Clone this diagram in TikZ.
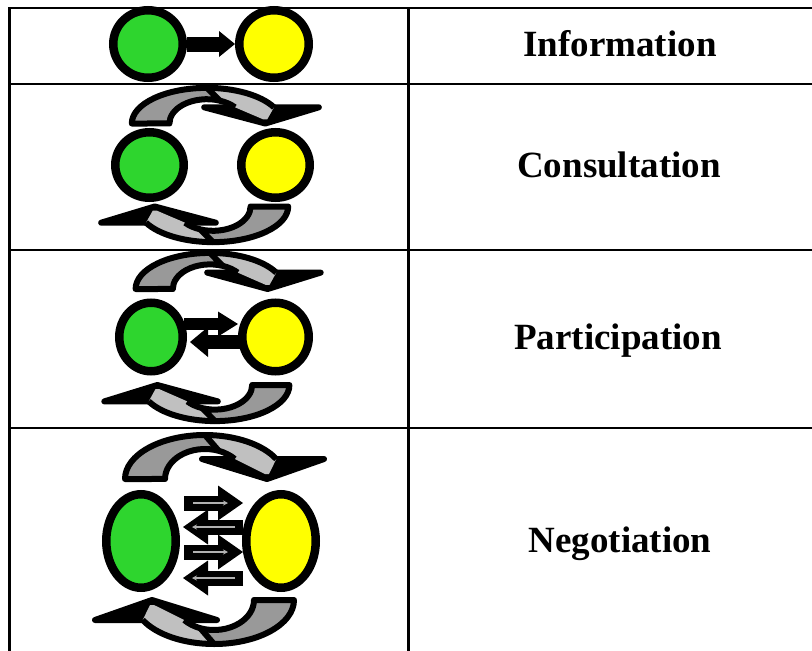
\documentclass[tikz,border=0pt]{standalone}
\usepackage{fontspec}
\setmainfont{Liberation Serif}
\usetikzlibrary{arrows.meta, shapes.geometric, calc}
\definecolor{mgreen}{HTML}{2ED52E}
\definecolor{myellow}{HTML}{FFFF00}
\definecolor{mdark}{HTML}{999999}
\definecolor{mlight}{HTML}{C0C0C0}
\definecolor{mthin}{HTML}{B0B0B0}
\tikzset{
  rule/.style={line width=2.5pt, black},
  gparty/.style={ellipse, draw=black, fill=mgreen, line width=8.5pt, inner sep=0pt},
  yparty/.style={ellipse, draw=black, fill=myellow, line width=8.5pt, inner sep=0pt},
  stage/.style={font=\fontsize{37}{40}\selectfont\bfseries, anchor=base},
  loopback/.style={draw=black, line width=6pt, line join=round},
  flow/.style={line width=#1, black},
  inner/.style={line width=1.3pt, mthin, -{Stealth[length=5pt,width=5pt]}},
  pics/loop/.style={code={
    %% flat head
    \filldraw[loopback, fill=black] (-3,-20) -- (62,0) -- (119,-20) -- cycle;
    %% front half running into the head
    \fill[mlight] (0,-44)
      arc[start angle=270, end angle=333, x radius=80, y radius=44]
      -- (64,-5) -- (60,-5) -- (29.8,-20)
      arc[start angle=318.2, end angle=290, x radius=40, y radius=30] -- cycle;
    \draw[loopback] (0,-44)
      arc[start angle=270, end angle=333, x radius=80, y radius=44];
    \draw[loopback] (29.8,-20)
      arc[start angle=318.2, end angle=290, x radius=40, y radius=30];
    %% back half
    \filldraw[loopback, fill=mdark] (-80,0)
      arc[start angle=180, end angle=270, x radius=80, y radius=44]
      -- (13.7,-28.2)
      arc[start angle=290, end angle=180, x radius=40, y radius=30] -- cycle;
  }},
}

\begin{document}
\begin{tikzpicture}[x=1pt, y=-1pt]
  \useasboundingbox (0,0) rectangle (812,651);
  \clip (0,0) rectangle (812,651);

  %% ── table ──
  \draw[rule] (9.5,8) rectangle (840,680);
  \draw[rule] (408.5,8) -- (408.5,680);
  \foreach \y in {84,250,428}{
    \draw[rule] (9.5,\y) -- (840,\y);
  }

  %% ── curved arrows round each pair ──
  \foreach \ax/\ay/\bx/\by/\sx/\sy in {207/123.5/213/206.5/.94/.81, 210/289/215/385/.93/.82, 205/479/214/600/1/1}{
    \pic[xscale=\sx, yscale=\sy] at (\ax,\ay) {loop};
    \pic[rotate=180, xscale=\sx, yscale=\sy] at (\bx,\by) {loop};
  }

  %% ── parties ──
  \node[gparty, minimum width=69.5pt, minimum height=67.5pt] (G1) at (148,44) {};
  \node[yparty, minimum width=69.5pt, minimum height=67.5pt] (Y1) at (274,44) {};
  \node[gparty, minimum width=68.5pt, minimum height=65.5pt] (G2) at (149.5,165) {};
  \node[yparty, minimum width=68.5pt, minimum height=65.5pt] (Y2) at (275.5,165) {};
  \node[gparty, minimum width=63.5pt, minimum height=68.5pt] (G3) at (151,337) {};
  \node[yparty, minimum width=66.5pt, minimum height=68.5pt] (Y3) at (275.5,337) {};
  \node[gparty, minimum width=69.5pt, minimum height=93.5pt] (G4) at (141,541) {};
  \node[yparty, minimum width=69.5pt, minimum height=93.5pt] (Y4) at (281,541) {};

  %% ── one way ──
  \draw[flow=15pt, -{Triangle[length=16pt,width=26pt,line width=0pt]}] (G1.east) -- (Y1.west);

  %% ── both ways ──
  \draw[flow=12pt, -{Triangle[length=20pt,width=25pt,line width=0pt]}]
    ($(G3.east)+(-3,-13)$) -- ($(Y3.west)+(0,-13)$);
  \draw[flow=14pt, -{Triangle[length=18pt,width=30pt,line width=0pt]}]
    ($(Y3.west)+(3,5)$) -- ($(G3.east)+(3,5)$);

  %% ── many exchanges ──
  \foreach \dy in {-38,11}{
    \draw[flow=15pt, -{Triangle[length=25pt,width=35pt,line width=0pt]}]
      ($(G4.east)+(4,\dy)$) -- ($(Y4.west)+(1,\dy)$);
    \draw[inner] ($(G4.east)+(13,\dy)$) -- ($(Y4.west)+(-14,\dy)$);
  }
  \foreach \dy in {-14,37}{
    \draw[flow=15pt, -{Triangle[length=25pt,width=35pt,line width=0pt]}]
      ($(Y4.west)+(1,\dy)$) -- ($(G4.east)+(3,\dy)$);
    \draw[inner] ($(Y4.west)+(-7,\dy)$) -- ($(G4.east)+(12,\dy)$);
  }

  %% ── stage names ──
  \node[stage] (info) at (620,56) {Information};
  \node[stage] (consult) at (619,177) {Consultation};
  \node[stage] (partic) at (618,349) {Participation};
  \node[stage] (negot) at (620,552) {Negotiation};
\end{tikzpicture}
\end{document}
